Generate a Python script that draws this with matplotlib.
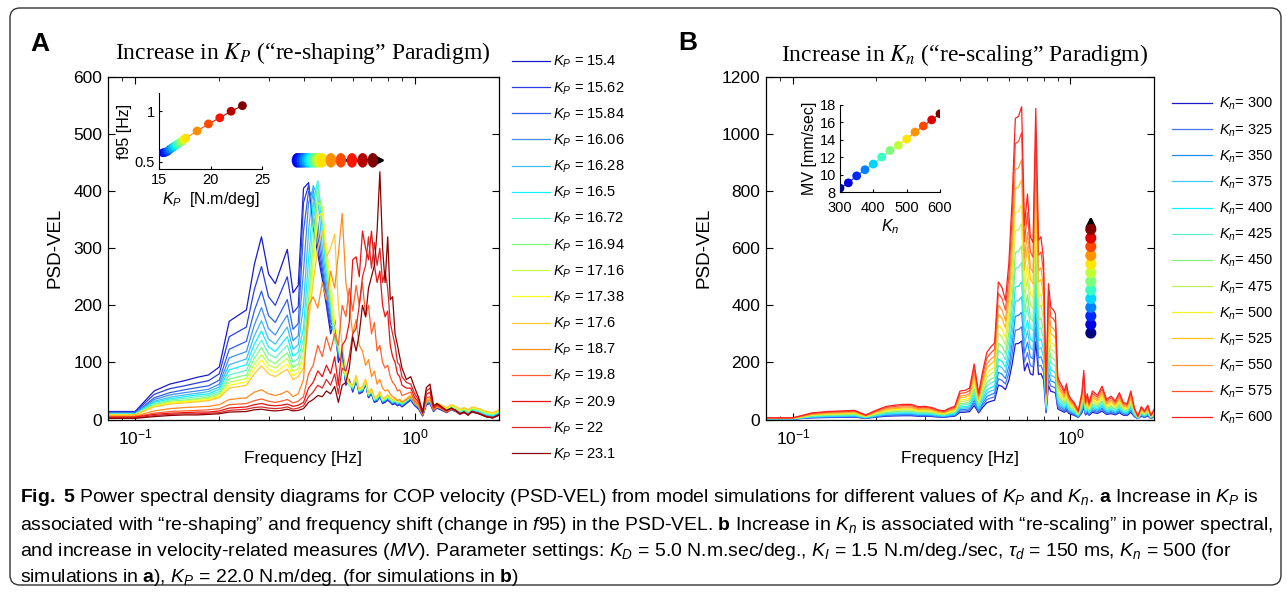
import numpy as np
import matplotlib
matplotlib.use('Agg')
import matplotlib.pyplot as plt
from matplotlib.patches import FancyBboxPatch
from matplotlib.markers import MarkerStyle
from matplotlib.transforms import Affine2D, IdentityTransform

plt.rcParams['font.family'] = 'Liberation Sans'
plt.rcParams['mathtext.fontset'] = 'custom'
plt.rcParams['mathtext.rm'] = 'Liberation Sans'
plt.rcParams['mathtext.it'] = 'Liberation Sans:italic'
plt.rcParams['mathtext.bf'] = 'Liberation Sans:bold'

W, H = 1287, 592

# ---------------- panel A data (K_P, "re-shaping") ----------------
kp_labels = ['15.4', '15.62', '15.84', '16.06', '16.28', '16.5', '16.72', '16.94',
             '17.16', '17.38', '17.6', '18.7', '19.8', '20.9', '22', '23.1']
kp_colors = ['#1a1acc', '#2a3de0', '#2e5fe6', '#3f8fee', '#3dbdf2', '#11f0ff', '#5ff5c8',
             '#7dff7d', '#c3ff4a', '#ffff1a', '#ffc830', '#ff8a1f', '#ff6030', '#ee1111',
             '#d82828', '#8b0000']

kp_freq = [0.08, 0.1, 0.117, 0.133, 0.15, 0.167, 0.183, 0.2, 0.217, 0.25, 0.267, 0.283,
           0.3, 0.317, 0.333, 0.35, 0.367, 0.383, 0.4, 0.417, 0.433, 0.45, 0.467, 0.483,
           0.5, 0.517, 0.533, 0.55, 0.567, 0.583, 0.6, 0.617, 0.633, 0.65, 0.667, 0.683,
           0.7, 0.717, 0.733, 0.75, 0.767, 0.783, 0.8, 0.817, 0.833, 0.85, 0.867, 0.883,
           0.9, 0.933, 0.967, 1.0, 1.033, 1.067, 1.1, 1.133, 1.167, 1.2, 1.25, 1.3, 1.35,
           1.4, 1.45, 1.5, 1.55, 1.6, 1.7, 1.8, 1.9, 2.0]

# blue..gold family: values up to 0.6 Hz
kp_family_head = [
    [14, 14, 50, 62, 68, 74, 78, 92, 172, 192, 272, 320, 255, 238, 268, 298, 222, 235,
     405, 415, 335, 290, 245, 200, 150, 175, 100, 120, 60, 70, 48],
    [13, 13, 44, 54, 59, 64, 68, 80, 145, 162, 228, 268, 215, 200, 225, 250, 187, 198,
     380, 410, 360, 300, 255, 205, 160, 170, 105, 115, 62, 68, 50],
    [11, 11, 38, 47, 52, 56, 59, 69, 123, 137, 191, 225, 182, 170, 190, 210, 158, 168,
     330, 400, 390, 320, 265, 215, 170, 160, 110, 110, 65, 66, 52],
    [11, 11, 35, 43, 47, 50, 53, 62, 108, 119, 166, 196, 159, 148, 166, 183, 138, 147,
     260, 380, 405, 345, 280, 225, 180, 150, 115, 105, 67, 64, 53],
    [10, 10, 32, 39, 43, 46, 49, 57, 96, 106, 147, 173, 141, 132, 147, 162, 123, 131,
     200, 330, 410, 390, 300, 240, 190, 145, 120, 100, 70, 62, 54],
    [10, 10, 30, 36, 40, 43, 45, 53, 87, 96, 132, 155, 127, 119, 132, 145, 111, 118,
     160, 280, 380, 418, 330, 255, 200, 140, 125, 95, 72, 60, 55],
    [9, 9, 28, 34, 37, 40, 42, 49, 78, 86, 118, 139, 115, 108, 119, 130, 100, 107,
     140, 240, 350, 415, 350, 265, 205, 138, 128, 92, 74, 60, 56],
    [9, 9, 26, 32, 34, 37, 39, 46, 71, 78, 107, 126, 104, 98, 108, 117, 91, 97,
     125, 210, 310, 400, 370, 275, 210, 140, 130, 90, 76, 60, 57],
    [8, 8, 24, 30, 32, 35, 37, 43, 65, 72, 97, 114, 96, 90, 99, 107, 84, 89,
     110, 190, 280, 380, 372, 285, 220, 150, 132, 90, 78, 61, 58],
    [8, 8, 23, 29, 31, 33, 35, 40, 60, 66, 89, 104, 88, 82, 90, 97, 77, 82,
     100, 180, 260, 355, 362, 300, 240, 170, 135, 92, 80, 62, 59],
    [8, 8, 22, 27, 29, 31, 33, 38, 55, 60, 80, 94, 80, 75, 82, 88, 70, 75,
     90, 170, 240, 300, 330, 285, 300, 325, 200, 130, 85, 65, 60],
]
# the family overlaps above 0.6 Hz: shared values, each curve sits slightly higher
kp_family_rest = [68, 45, 48, 62, 38, 45, 30, 32, 40, 28, 30, 34, 30, 26, 28, 24, 26, 22, 28, 34,
                  24, 18, 6, 26, 28, 14, 20, 16, 12, 17, 14, 9, 12, 8, 13, 10, 5, 3, 8]
kp_family_lift = [0, 1, 2, 3, 4, 4, 5, 6, 7, 8, 9]

kp_187 = [6, 6, 15, 19, 21, 22, 23, 26, 35, 38, 48, 52, 45, 42, 45, 50, 40, 45,
          70, 200, 215, 195, 240, 210, 260, 230, 290, 361, 240, 200, 150,
          175, 130, 120, 95, 105, 75, 85, 62, 70, 55, 50, 52, 45, 40, 38, 33, 35, 30, 35, 40,
          28, 22, 8, 32, 34, 16, 22, 18, 13, 18, 15, 10, 13, 8, 14, 10, 5, 3, 8]
kp_198 = [5, 5, 11, 14, 15, 16, 17, 19, 26, 28, 33, 36, 32, 30, 32, 35, 29, 32,
          40, 80, 95, 130, 110, 145, 120, 150, 130, 200, 180, 230, 190,
          235, 200, 240, 180, 200, 150, 170, 120, 130, 100, 90, 95, 75, 65, 60, 50, 52, 42, 45, 48,
          32, 26, 10, 38, 40, 18, 24, 19, 14, 19, 15, 10, 13, 8, 14, 10, 5, 3, 8]
kp_209 = [4, 4, 9, 11, 12, 13, 13, 15, 20, 22, 26, 28, 25, 24, 25, 27, 23, 25,
          30, 55, 65, 85, 75, 95, 80, 110, 60, 130, 140, 170, 280,
          285, 250, 330, 300, 280, 330, 270, 240, 260, 200, 180, 190, 130, 110, 100, 80, 75, 60, 55, 55,
          38, 30, 11, 44, 48, 20, 26, 20, 15, 19, 16, 10, 13, 8, 14, 10, 5, 3, 8]
kp_220 = [3, 3, 7, 9, 10, 10, 11, 12, 16, 18, 21, 22, 20, 19, 20, 22, 18, 20,
          24, 40, 48, 60, 55, 70, 60, 80, 45, 90, 85, 110, 150,
          160, 200, 250, 270, 320, 265, 310, 270, 300, 240, 260, 230, 170, 150, 130, 100, 95, 75, 65, 62,
          45, 34, 12, 50, 55, 22, 27, 21, 15, 20, 16, 10, 13, 8, 14, 10, 5, 3, 8]
kp_231 = [2, 2, 5, 7, 8, 8, 9, 10, 13, 14, 17, 18, 16, 15, 16, 18, 15, 16,
          19, 30, 35, 42, 40, 50, 45, 58, 30, 60, 65, 90, 145,
          120, 150, 200, 180, 230, 250, 270, 330, 434, 300, 240, 320, 210, 215, 150, 130, 110, 90, 70, 75,
          55, 38, 13, 56, 62, 24, 28, 22, 16, 20, 16, 10, 13, 8, 14, 10, 5, 3, 8]

# inset A: f95 against K_P
kp_values = [15.4, 15.62, 15.84, 16.06, 16.28, 16.5, 16.72, 16.94, 17.16, 17.38, 17.6,
             18.7, 19.8, 20.9, 22.0, 23.1]
f95_values = [0.59, 0.595, 0.605, 0.625, 0.64, 0.655, 0.67, 0.685, 0.70, 0.72, 0.735,
              0.805, 0.875, 0.935, 1.0, 1.055]
kp_dot_t = [0.1, 0.15, 0.2, 0.25, 0.3, 0.35, 0.4, 0.47, 0.54, 0.61, 0.67, 0.76, 0.83, 0.89,
            0.95, 1.0]

# shift arrow of panel A (frequency of each dot, PSD level of the arrow)
arrow_a_f = [0.379, 0.387, 0.395, 0.403, 0.412, 0.420, 0.429, 0.438, 0.447, 0.456, 0.466,
             0.501, 0.544, 0.596, 0.651, 0.708]
arrow_a_ends = [0.372, 0.785]
arrow_a_level = 454

# ---------------- panel B data (K_n, "re-scaling") ----------------
kn_labels = ['300', '325', '350', '375', '400', '425', '450', '475', '500', '525', '550',
             '575', '600']
kn_colors = ['#1a1acc', '#4a74f0', '#1f8fff', '#40c8f8', '#10f0ff', '#60f0c8', '#80f080',
             '#c0f060', '#f8f020', '#ffc010', '#ff9a40', '#ff5030', '#ff2020']
kn_freq = [0.08, 0.1, 0.117, 0.133, 0.15, 0.167, 0.183, 0.2, 0.217, 0.233, 0.25, 0.267,
           0.283, 0.3, 0.317, 0.333, 0.35, 0.367, 0.383, 0.4, 0.417, 0.433, 0.45, 0.467,
           0.483, 0.5, 0.517, 0.533, 0.55, 0.567, 0.583, 0.6, 0.617, 0.633, 0.65, 0.667,
           0.683, 0.7, 0.717, 0.733, 0.75, 0.767, 0.783, 0.8, 0.817, 0.833, 0.85, 0.867,
           0.883, 0.9, 0.917, 0.933, 0.95, 0.967, 0.983, 1.0, 1.033, 1.067, 1.1, 1.117,
           1.133, 1.15, 1.167, 1.2, 1.25, 1.3, 1.35, 1.4, 1.45, 1.5, 1.55, 1.6, 1.65, 1.7,
           1.75, 1.8, 1.85, 1.9, 1.95, 2.0]
# top curve (K_n = 600)
kn_top = [6, 6, 23, 28, 30, 32, 16, 33, 46, 50, 53, 53,
          45, 46, 42, 34, 30, 40, 46, 100, 102, 110, 195, 92,
          170, 235, 255, 268, 482, 462, 418, 548, 780, 1055, 1062, 1096,
          680, 790, 640, 620, 1090, 628, 640, 560, 95, 476, 392, 385,
          370, 150, 130, 118, 100, 125, 90, 75, 58, 30, 95, 172,
          62, 90, 58, 100, 85, 117, 70, 82, 65, 94, 60, 55, 100, 40,
          12, 45, 30, 50, 15, 35]
# height of the main peak (0.67 Hz) for every K_n
kn_peak = [275, 325, 376, 430, 482, 550, 608, 686, 752, 840, 910, 1005, 1096]

# inset B: MV against K_n
kn_values = [300, 325, 350, 375, 400, 425, 450, 475, 500, 525, 550, 575, 600]
mv_values = [8.5, 9.1, 9.9, 10.6, 11.25, 12.05, 12.8, 13.4, 14.1, 14.9, 15.6, 16.3, 17.0]

arrow_b_f = 1.184
arrow_b_levels = [303, 333, 363, 393, 424, 454, 484, 515, 545, 575, 606, 636, 666]
arrow_b_ends = [290, 712]

caption = [
    r'$\mathbf{Fig.\ 5}$ Power spectral density diagrams for COP velocity (PSD-VEL) from model '
    r'simulations for different values of $K_P$ and $K_n$. $\mathbf{a}$ Increase in $K_P$ is',
    r'associated with “re-shaping” and frequency shift (change in $f$95) in the PSD-VEL. '
    r'$\mathbf{b}$ Increase in $K_n$ is associated with “re-scaling” in power spectral,',
    r'and increase in velocity-related measures ($MV$). Parameter settings: $K_D$ = 5.0 N.m.sec/deg., '
    r'$K_I$ = 1.5 N.m/deg./sec, $\tau_d$ = 150 ms, $K_n$ = 500 (for',
    r'simulations in $\mathbf{a}$), $K_P$ = 22.0 N.m/deg. (for simulations in $\mathbf{b}$)',
]


def box(l, t, r, b):
    return [l / W, 1 - b / H, (r - l) / W, (b - t) / H]


def style_main(ax, ymax, ystep):
    ax.set_xscale('log')
    ax.set_xlim(0.08, 2.0)
    ax.set_ylim(0, ymax)
    ax.set_yticks(np.arange(0, ymax + 1, ystep))
    ax.set_xticks([0.1, 1.0])
    ax.tick_params(which='both', direction='in', top=True, right=True, labelsize=12.5)
    ax.tick_params(which='major', length=5, width=0.8)
    ax.tick_params(which='minor', length=3, width=0.6)
    ax.tick_params(axis='x', pad=6)
    ax.tick_params(axis='y', pad=4)
    for s in ax.spines.values():
        s.set_linewidth(0.9)
    ax.set_xlabel('Frequency [Hz]', fontsize=12.5, labelpad=2)
    ax.set_ylabel('PSD-VEL', fontsize=13.5, labelpad=7)


def style_inset(ax):
    ax.spines['top'].set_visible(False)
    ax.spines['right'].set_visible(False)
    for s in ax.spines.values():
        s.set_linewidth(0.8)
    ax.tick_params(direction='in', length=2, labelsize=10.5, pad=3)
    ax.patch.set_alpha(0)


fig = plt.figure(figsize=(W / 100, H / 100), dpi=100)
jet = plt.cm.jet

# ---------------- panel A ----------------
axA = fig.add_axes(box(108, 77, 499, 419.5))
kp_series = [head + [v + lift for v in kp_family_rest]
             for head, lift in zip(kp_family_head, kp_family_lift)]
kp_series += [kp_187, kp_198, kp_209, kp_220, kp_231]
for lab, vals, col in zip(kp_labels, kp_series, kp_colors):
    axA.plot(kp_freq, vals, color=col, lw=0.9, label=r'$K_P$ = ' + lab)
style_main(axA, 600, 100)

axA.annotate('', xy=(arrow_a_ends[1], arrow_a_level), xytext=(arrow_a_ends[0], arrow_a_level),
             arrowprops=dict(arrowstyle='-|>', color='k', lw=2, mutation_scale=14,
                             shrinkA=0, shrinkB=0), zorder=6)
ell = MarkerStyle('o', transform=Affine2D().scale(0.72, 1.0))
axA.scatter(arrow_a_f, [arrow_a_level] * len(arrow_a_f), s=110, marker=ell,
            c=[jet(t) for t in kp_dot_t], zorder=7, linewidths=0)

axA.legend(loc='upper left', bbox_to_anchor=(512 / W, 1 - 54 / H), bbox_transform=fig.transFigure,
           frameon=False, fontsize=10.5, handlelength=2.6, handletextpad=0.2, labelspacing=0.67,
           borderaxespad=0, borderpad=0)

fig.text(303 / W, 1 - 53 / H, r'Increase in $K_P$ (“re-shaping” Paradigm)', ha='center',
         va='center', family='Liberation Serif', fontsize=17, math_fontfamily='stix')
fig.text(30 / W, 1 - 44 / H, 'A', ha='left', va='center', fontsize=19, weight='bold')

insA = fig.add_axes(box(159, 93, 262, 169))
for k in range(len(kp_values) - 1):
    insA.plot(kp_values[k:k + 2], f95_values[k:k + 2], color=jet(kp_dot_t[k + 1]), lw=0.8)
insA.scatter(kp_values, f95_values, s=40, c=[jet(t) for t in kp_dot_t], zorder=3, linewidths=0)
insA.set_xlim(15, 25)
insA.set_ylim(0.43, 1.18)
insA.set_xticks([15, 20, 25])
insA.set_yticks([0.5, 1])
insA.set_yticklabels(['0.5', '1'])
style_inset(insA)
insA.set_xlabel(r'$K_P$  [N.m/deg]', fontsize=11.5, labelpad=2)
insA.set_ylabel('f95 [Hz]', fontsize=11.5, labelpad=2)

# ---------------- panel B ----------------
axB = fig.add_axes(box(766, 77, 1154, 419.5))
for lab, pk, col in zip(kn_labels, kn_peak, kn_colors):
    vals = [v * pk / kn_peak[-1] for v in kn_top]
    axB.plot(kn_freq, vals, color=col, lw=0.9, label=r'$K_n$= ' + lab)
style_main(axB, 1200, 200)

axB.annotate('', xy=(arrow_b_f, arrow_b_ends[1]), xytext=(arrow_b_f, arrow_b_ends[0]),
             arrowprops=dict(arrowstyle='-|>', color='k', lw=2, mutation_scale=14,
                             shrinkA=0, shrinkB=0), zorder=6)
axB.scatter([arrow_b_f] * len(arrow_b_levels), arrow_b_levels, s=64,
            c=jet(np.linspace(0, 1, len(arrow_b_levels))), zorder=7, linewidths=0)

axB.legend(loc='upper left', bbox_to_anchor=(1172 / W, 1 - 96 / H), bbox_transform=fig.transFigure,
           frameon=False, fontsize=10.5, handlelength=2.75, handletextpad=0.45, labelspacing=0.67,
           borderaxespad=0, borderpad=0)

fig.text(965 / W, 1 - 55 / H, r'Increase in $K_n$ (“re-scaling” Paradigm)', ha='center',
         va='center', family='Liberation Serif', fontsize=17, math_fontfamily='stix')
fig.text(678 / W, 1 - 43 / H, 'B', ha='left', va='center', fontsize=19, weight='bold')

insB = fig.add_axes(box(840, 105, 940, 192.5))
kn_dot_colors = jet(np.linspace(0, 1, len(kn_values)))
for k in range(len(kn_values) - 1):
    insB.plot(kn_values[k:k + 2], mv_values[k:k + 2], color=kn_dot_colors[k + 1], lw=0.8)
insB.scatter(kn_values, mv_values, s=40, c=kn_dot_colors, zorder=3, linewidths=0)
insB.set_xlim(300, 600)
insB.set_ylim(8, 18)
insB.set_xticks([300, 400, 500, 600])
insB.set_yticks([8, 10, 12, 14, 16, 18])
style_inset(insB)
insB.tick_params(axis='x', pad=6)
insB.set_xlabel(r'$K_n$', fontsize=11.5, labelpad=2)
insB.set_ylabel('MV [mm/sec]', fontsize=11.5, labelpad=2)

# ---------------- frame and caption ----------------
frame = FancyBboxPatch((10, 7), 1271, 577, boxstyle='round,pad=0,rounding_size=10',
                       transform=IdentityTransform(), fill=False, lw=1.0, edgecolor='#333333')
fig.patches.append(frame)

cap_y = [497, 525, 552, 578]
cap_texts = [fig.text(20 / W, 1 - y / H, s, ha='left', va='center',
                      family=['Liberation Sans Narrow', 'Liberation Sans'], fontsize=12)
             for s, y in zip(caption, cap_y)]
fig.canvas.draw()
w0 = cap_texts[0].get_window_extent().width
for t in cap_texts:
    t.set_fontsize(12 * 1235 / w0)

fig.savefig('out.png', dpi=100)
